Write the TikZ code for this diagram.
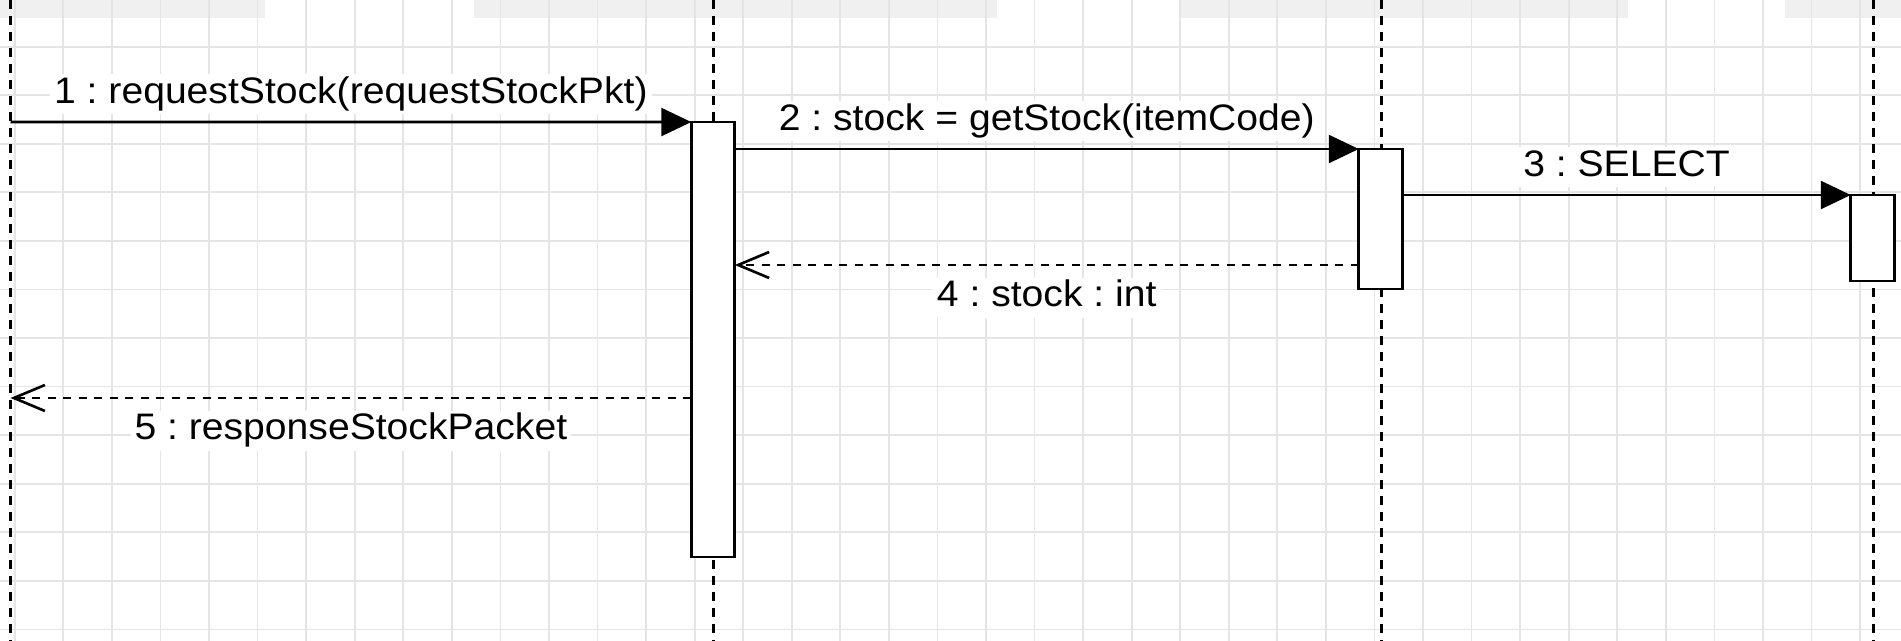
\documentclass[tikz,border=0pt]{standalone}
\usepackage{fontspec}
\setmainfont{Liberation Sans}[FakeStretch=1.06]
\usetikzlibrary{arrows.meta,calc}
\definecolor{gridgray}{RGB}{229,229,229}
\definecolor{bandgray}{RGB}{240,240,240}
\frenchspacing
\tikzset{%
  % Specifications for style of nodes:
    bar/.style = {rectangle, draw=black, fill=white, line width=1.6pt,
                  minimum width=0.87cm, inner sep=0pt, outer sep=0pt},
    lbl/.style = {fill=white, inner xsep=0.08cm, inner ysep=0.02cm,
                  text height=0.56cm, text depth=0.2cm,
                  font=\fontsize{21}{25}\selectfont},
  % Specifications for style of lines:
    lifeline/.style = {line width=1.7pt, dash pattern=on 0.18cm off 0.14cm},
    msg/.style = {line width=1.5pt, -{Triangle[length=0.6cm, width=0.56cm]}},
    reply/.style = {line width=1.6pt, dash pattern=on 0.16cm off 0.15cm,
                    -{Straight Barb[length=0.62cm, width=0.52cm, line width=1.5pt]}},
    gridline/.style = {draw=gridgray, line width=1pt}%
}

\begin{document}
\begin{tikzpicture}[x=0.02cm, y=-0.02cm]
\def\Wd{1901}
\def\Ht{641}
\def\Gs{48.56}

\useasboundingbox (0,0) rectangle (\Wd,\Ht);
\fill[white] (0,0) rectangle (\Wd,\Ht);

%header boxes, cut off at the top
\fill[bandgray] (0,0) rectangle (265,18);
\fill[bandgray] (474,0) rectangle (997,18);
\fill[bandgray] (1179,0) rectangle (1628,18);
\fill[bandgray] (1785,0) rectangle (\Wd,18);

%grid
\foreach \i in {0,...,38}
  \draw[gridline] ({14.8+\Gs*\i},0) -- ({14.8+\Gs*\i},\Ht);
\foreach \j in {1,...,13}
  \draw[gridline] (0,{-1.86+\Gs*\j}) -- (\Wd,{-1.86+\Gs*\j});

%lifelines
\coordinate (L1t) at (10.5,0);
\coordinate (L1b) at (10.5,\Ht);
\coordinate (L2t) at (713,0);
\coordinate (L2b) at (713,\Ht);
\coordinate (L3t) at (1381,0);
\coordinate (L3b) at (1381,\Ht);
\coordinate (L4t) at (1873,0);
\coordinate (L4b) at (1873,\Ht);
\draw[lifeline] (L1t) -- (L1b);
\draw[lifeline] (L2t) -- (L2b);
\draw[lifeline] (L3t) -- (L3b);
\draw[lifeline] (L4t) -- (L4b);

%activation bars
\node[bar, minimum height=8.7cm] (bar2) at (713,339.5) {};
\node[bar, minimum height=2.8cm] (bar3) at (1380.5,219) {};
\node[bar, minimum height=1.72cm] (bar4) at (1872.5,238) {};

%messages
\coordinate (m1) at (10.5,122); %start on first lifeline
\coordinate (m4) at (0,265);
\coordinate (m5) at (10.5,398); %end on first lifeline

\draw[msg] (m1) -- (bar2.north west)
  node[lbl, midway, anchor=base, yshift=0.38cm] (t1) {1 : requestStock(requestStockPkt)};
\draw[msg] (bar3.north west -| bar2.east) -- (bar3.north west)
  node[lbl, midway, anchor=base, yshift=0.38cm] (t2) {2 : stock = getStock(itemCode)};
\draw[msg] (bar4.north west -| bar3.east) -- (bar4.north west)
  node[lbl, midway, anchor=base, yshift=0.38cm] (t3) {3 : SELECT};
\draw[reply] (m4 -| bar3.west) -- (m4 -| bar2.east)
  node[lbl, midway, anchor=base, yshift=-0.84cm] (t4) {4 : stock : int};
\draw[reply] (m5 -| bar2.west) -- (m5)
  node[lbl, midway, anchor=base, yshift=-0.84cm] (t5) {5 : responseStockPacket};

\end{tikzpicture}
\end{document}
